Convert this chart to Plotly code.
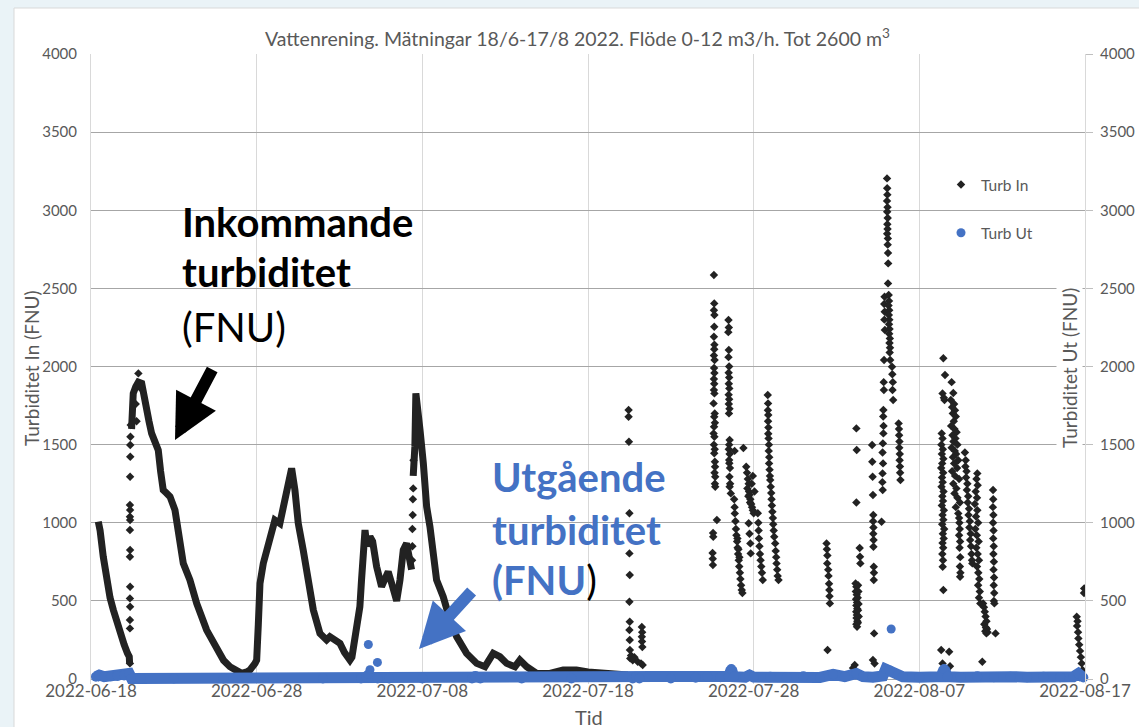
import pandas as pd
import plotly.graph_objects as go

START = pd.Timestamp("2022-06-18")
END = pd.Timestamp("2022-08-17")

# ---------------- data (days since 2022-06-18, FNU) ----------------
# Turb In – continuous part of the record
in_curve_day = [0.44, 0.55, 0.74, 0.95, 1.15, 1.35, 1.55, 1.75, 2.0, 2.2, 2.31, 2.33,
                None,
                2.45, 2.55, 2.7, 2.86, 3.06, 3.2, 3.36, 3.5, 3.66, 3.85, 4.06, 4.2, 4.36,
                4.55, 4.77, 5.07, 5.27, 5.57, 5.97, 6.38, 6.98, 7.59, 8.0, 8.39, 8.8,
                9.09, 9.4, 9.6, 9.9, 10.0, 10.1, 10.2, 10.4, 10.8, 11.1, 11.4, 11.7,
                12.0, 12.11, 12.31, 12.51, 12.81, 13.11, 13.42, 13.82, 14.22, 14.42,
                14.8, 15.03, 15.3, 15.63, 15.75, 16.0, 16.23, 16.33, 16.45, 16.54,
                16.65, 16.84, 17.0, 17.24, 17.54, 17.74, 17.94, 18.15, 18.35, 18.45,
                18.65, 18.85, 19.05, 19.25, 19.35,
                None,
                19.45, 19.55, 19.61, 19.68, 19.75, 19.86, 20.06, 20.26, 20.46, 20.66,
                20.86, 21.26, 21.67, 22.07, 22.67, 23.28, 23.78, 24.28, 24.68, 25.09,
                25.59, 25.89, 26.3, 26.9, 27.7, 28.5, 29.3, 30.0, 31.0, 32.0, 32.4]
in_curve_val = [1007, 950, 783, 612, 520, 442, 360, 292, 220, 165, 143, 100,
                None,
                1600, 1828, 1870, 1900, 1892, 1800, 1721, 1650, 1572, 1520, 1465, 1330, 1209,
                1190, 1167, 1081, 911, 740, 634, 484, 313, 185, 120, 79, 50,
                36, 45, 58, 100, 121, 350, 612, 740, 911, 1017, 996, 1167,
                1316, 1348, 1209, 996, 825, 612, 442, 292, 250, 271,
                240, 228, 170, 121, 140, 300, 463, 634, 800, 953,
                850, 911, 880, 719, 591, 634, 687, 612, 527, 500,
                634, 825, 868, 761, 700,
                None,
                1300, 1487, 1828, 1780, 1700, 1594, 1381, 1103, 975, 783,
                634, 527, 377, 271, 164, 100, 79, 164, 143, 100,
                79, 121, 79, 36, 36, 58, 58, 45, 40, 30, 25]

# Turb In – scattered readings (day, FNU)
jun20_points = [(2.35, 100), (2.35, 324), (2.35, 377), (2.36, 463), (2.35, 516), (2.36, 591),
                (2.35, 783), (2.36, 825), (2.35, 953), (2.36, 1017), (2.35, 1039), (2.36, 1081),
                (2.35, 1113), (2.36, 1295), (2.37, 1423), (2.37, 1497), (2.38, 1551),
                (2.40, 1625), (2.86, 1956), (3.0, 1860), (2.7, 1760), (2.75, 1650)]
jul07_points = [(19.38, 760), (19.40, 850), (19.40, 960), (19.42, 1050), (19.43, 1150),
                (19.45, 1220), (19.47, 1400)]
jul20_points = [(32.45, 1721), (32.45, 1679), (32.47, 1519), (32.50, 1061), (32.50, 804),
                (32.52, 666), (32.50, 495), (32.52, 367), (32.50, 313), (32.52, 250),
                (32.53, 185), (32.55, 132), (32.60, 150), (32.70, 120), (32.80, 140),
                (33.00, 110), (33.20, 100), (33.30, 90), (33.25, 333), (33.27, 300),
                (33.25, 270), (33.26, 240), (33.28, 205)]
jul26_points = [(37.60, 2586), (37.62, 2404), (37.60, 2360), (37.63, 2330), (37.62, 2255),
                (37.60, 2190), (37.63, 2140), (37.62, 2110), (37.60, 2070), (37.64, 2042),
                (37.61, 1990), (37.63, 1958), (37.60, 1920), (37.62, 1890), (37.60, 1850),
                (37.63, 1828), (37.58, 1764), (37.65, 1700), (37.62, 1679), (37.66, 1640),
                (37.61, 1615), (37.58, 1572), (37.63, 1550), (37.60, 1500), (37.65, 1470),
                (37.62, 1445), (37.66, 1390), (37.67, 1359), (37.64, 1320), (37.68, 1295),
                (37.66, 1250), (37.68, 1231), (37.78, 1017), (37.55, 934), (37.56, 910),
                (37.52, 806), (37.53, 770), (37.54, 730),
                (38.48, 2298), (38.50, 2250), (38.47, 2220), (38.50, 2106), (38.48, 2060),
                (38.52, 2000), (38.49, 1960), (38.52, 1930), (38.50, 1890), (38.53, 1860),
                (38.49, 1820), (38.52, 1790), (38.50, 1760), (38.54, 1730), (38.51, 1700),
                (38.55, 1530), (38.52, 1500), (38.50, 1470), (38.55, 1440), (38.52, 1402),
                (38.53, 1381), (38.57, 1350), (38.54, 1295), (38.58, 1250), (38.55, 1230),
                (38.62, 1188), (38.85, 1460), (38.82, 1150), (38.85, 1100), (38.86, 1060),
                (38.90, 1010), (38.93, 960), (38.96, 920), (39.00, 880), (39.03, 840),
                (39.06, 800), (39.10, 760), (39.13, 720), (39.17, 680), (39.20, 640),
                (39.24, 600), (39.28, 570), (39.32, 550), (39.02, 900), (39.08, 830),
                (39.14, 780),
                (39.38, 1478), (39.55, 1359), (39.60, 1320), (39.65, 1280), (39.70, 1250),
                (39.72, 1200), (39.75, 1180), (39.80, 1150), (39.85, 1120), (39.90, 1100),
                (39.95, 1080), (40.00, 1061), (39.62, 1220), (39.68, 1170), (39.78, 1130),
                (39.88, 1250), (39.95, 1300), (40.05, 1200), (39.70, 997), (39.75, 930),
                (39.80, 868), (39.82, 804), (40.25, 1061), (40.28, 1000), (40.30, 950),
                (40.32, 900), (40.35, 850), (40.38, 800), (40.42, 760), (40.46, 720),
                (40.50, 680), (40.55, 634),
                (40.85, 1817), (40.87, 1764), (40.86, 1720), (40.88, 1690), (40.87, 1650),
                (40.89, 1610), (40.88, 1570), (40.90, 1540), (40.92, 1500), (40.91, 1460),
                (40.94, 1420), (40.93, 1380), (40.96, 1340), (40.98, 1300), (41.00, 1273),
                (41.03, 1230), (41.06, 1190), (41.08, 1150), (41.10, 1110), (41.13, 1070),
                (41.16, 1030), (41.18, 990), (41.21, 950), (41.24, 910), (41.30, 868),
                (41.33, 820), (41.36, 780), (41.38, 740), (41.42, 700), (41.45, 660),
                (41.50, 634)]
aug02_points = [(44.40, 868), (44.42, 830), (44.45, 790), (44.44, 740), (44.50, 700),
                (44.52, 660), (44.55, 610), (44.57, 570), (44.58, 530), (44.60, 484),
                (44.46, 185)]
aug04_points = [(46.15, 612), (46.20, 590), (46.17, 560), (46.22, 540), (46.18, 510),
                (46.24, 490), (46.20, 470), (46.25, 450), (46.19, 430), (46.23, 410),
                (46.21, 390), (46.26, 370), (46.20, 350), (46.24, 335), (46.30, 600),
                (46.32, 560), (46.28, 520), (46.33, 480), (46.30, 440), (46.34, 400),
                (46.29, 360), (46.40, 838), (46.42, 783), (46.44, 740), (46.20, 1130),
                (46.22, 1465), (46.20, 1604), (46.10, 89), (46.00, 70),
                (47.15, 1497), (47.16, 1391), (47.18, 1295), (47.20, 1177), (47.22, 1049),
                (47.21, 1010), (47.23, 970), (47.22, 930), (47.24, 890), (47.23, 847),
                (47.25, 719), (47.26, 680), (47.25, 634), (47.27, 292), (47.20, 121),
                (47.30, 99),
                (47.72, 1007), (47.78, 1316), (47.77, 1260), (47.79, 1209), (47.80, 1508),
                (47.78, 1450), (47.81, 1380), (47.83, 1721), (47.82, 1680), (47.84, 1620),
                (47.83, 1572), (47.85, 1900), (47.86, 1850), (47.87, 2042), (47.90, 2447),
                (47.88, 2400), (47.91, 2350), (47.89, 2300), (47.92, 2234),
                (48.05, 3204), (48.06, 3141), (48.07, 3100), (48.05, 3060), (48.08, 3020),
                (48.06, 2990), (48.09, 2950), (48.07, 2910), (48.08, 2880), (48.06, 2850),
                (48.10, 2820), (48.09, 2780), (48.11, 2727), (48.12, 2660), (48.11, 2532),
                (48.15, 2458), (48.17, 2420), (48.14, 2390), (48.18, 2360), (48.16, 2330),
                (48.19, 2300), (48.17, 2270), (48.20, 2240), (48.18, 2210), (48.22, 2180),
                (48.20, 2150), (48.23, 2120), (48.21, 2090), (48.24, 2042),
                (48.35, 1998), (48.37, 1950), (48.40, 1900), (48.38, 1850), (48.42, 1785),
                (48.75, 1636), (48.77, 1600), (48.78, 1560), (48.80, 1520), (48.79, 1480),
                (48.82, 1440), (48.81, 1400), (48.83, 1360), (48.84, 1320), (48.86, 1273)]
aug08_points = [(51.45, 2053), (51.55, 1945), (51.40, 1828), (51.48, 1800), (51.52, 1785),
                (51.35, 1572), (51.40, 1540), (51.33, 1500), (51.42, 1470), (51.36, 1440),
                (51.45, 1410), (51.38, 1380), (51.32, 1350), (51.44, 1320), (51.37, 1290),
                (51.41, 1260), (51.34, 1230), (51.46, 1200), (51.39, 1170), (51.43, 1140),
                (51.36, 1110), (51.48, 1080), (51.40, 1050), (51.45, 1020), (51.38, 990),
                (51.50, 960), (51.42, 930), (51.47, 900), (51.40, 870), (51.44, 840),
                (51.39, 800), (51.43, 760), (51.41, 719), (51.45, 570), (51.32, 185),
                (51.40, 100), (51.80, 175), (51.85, 82),
                (51.95, 1900), (52.05, 1830), (51.90, 1785), (52.10, 1760), (51.98, 1740),
                (52.15, 1720), (52.02, 1700), (52.20, 1680), (52.08, 1650), (51.92, 1620),
                (52.12, 1600), (52.25, 1580), (52.00, 1560), (52.18, 1540), (52.06, 1520),
                (52.30, 1500), (51.95, 1480), (52.14, 1460), (52.22, 1440), (52.03, 1420),
                (52.35, 1400), (52.10, 1380), (52.28, 1350), (51.98, 1330), (52.16, 1300),
                (52.40, 1280), (52.05, 1250), (52.24, 1220), (52.12, 1188), (52.30, 1160),
                (52.45, 1130), (52.20, 1100), (52.35, 1060), (52.40, 1030), (52.42, 1000),
                (52.44, 960), (52.40, 920), (52.46, 880), (52.43, 840), (52.47, 780),
                (52.45, 720), (52.48, 680), (52.46, 655),
                (52.75, 1450), (52.80, 1400), (52.78, 1360), (52.85, 1330), (52.82, 1290),
                (52.90, 1250), (52.87, 1210), (52.95, 1170), (52.92, 1130), (53.00, 1090),
                (52.97, 1050), (53.05, 1010), (53.02, 970), (53.10, 930), (53.07, 890),
                (53.12, 850), (53.15, 800), (53.18, 760), (53.20, 740),
                (53.50, 1316), (53.45, 1280), (53.52, 1240), (53.40, 1200), (53.48, 1160),
                (53.35, 1120), (53.50, 1080), (53.42, 1040), (53.55, 1000), (53.38, 960),
                (53.47, 920), (53.58, 880), (53.44, 840), (53.52, 800), (53.60, 760),
                (53.48, 720), (53.56, 680), (53.62, 640), (53.55, 600), (53.65, 560),
                (53.60, 520), (53.68, 484),
                (53.85, 484), (53.90, 460), (53.95, 430), (54.00, 400), (54.05, 370),
                (53.92, 350), (54.02, 330), (54.08, 320), (53.98, 305), (54.12, 300),
                (54.05, 292), (53.80, 110),
                (54.45, 1209), (54.46, 1150), (54.44, 1100), (54.47, 1050), (54.45, 1000),
                (54.48, 950), (54.46, 900), (54.49, 850), (54.47, 800), (54.50, 750),
                (54.48, 700), (54.51, 650), (54.49, 600), (54.52, 550), (54.50, 500),
                (54.53, 484), (54.60, 292)]
aug17_points = [(59.50, 399), (59.55, 370), (59.52, 340), (59.58, 300), (59.60, 260),
                (59.65, 220), (59.70, 180), (59.75, 140), (59.80, 100), (59.85, 58),
                (59.95, 580), (59.94, 550)]

# Turb Ut – outlet turbidity
ut_band_day = [0.3, 0.5, 0.8, 1.2, 1.6, 2.0, 2.3, 2.45, 3, 5, 8, 11, 14, 16.3, 16.6,
               16.9, 17.3, 18, 20, 23.0, 23.2, 23.5, 26, 29, 32.7, 32.9, 33.1, 35, 36.5,
               37.2, 38.0, 38.5, 38.65, 38.8, 39.5, 39.75, 40, 41, 42, 43, 44, 44.8, 45.5,
               46.2, 46.6, 47.2, 47.8, 47.97, 48.2, 49, 50, 51.3, 51.5, 51.7, 52.5, 53.5,
               54.5, 55.5, 56.5, 57.5, 58.5, 59.3, 59.6, 59.9]
ut_band_val = [15, 25, 15, 18, 20, 22, 35, 3, 3, 3, 3, 3, 3, 3, 15,
               8, 3, 3, 3, 3, 20, 3, 3, 3, 3, 15, 3, 3, 8,
               15, 12, 18, 64, 15, 12, 25, 12, 15, 12, 18, 10, 30, 15,
               35, 15, 12, 20, 64, 55, 15, 12, 15, 64, 15, 12, 18,
               12, 15, 12, 15, 12, 15, 35, 10]
ut_outliers = [(16.70, 30), (16.74, 221), (16.84, 60), (17.29, 106), (48.30, 320)]

tick_vals = [0, 500, 1000, 1500, 2000, 2500, 3000, 3500, 4000]


def to_dates(days):
    return [None if d is None else START + pd.Timedelta(days=d) for d in days]


in_points = (jun20_points + jul07_points + jul20_points + jul26_points +
             aug02_points + aug04_points + aug08_points + aug17_points)

BLACK = "#222222"
BLUE = "#4472C4"
GREY = "#595959"
FONT = "Lato"

fig = go.Figure()
fig.add_trace(go.Scatter(
    x=to_dates(in_curve_day), y=in_curve_val, mode="lines",
    line=dict(color=BLACK, width=7), showlegend=False, hoverinfo="skip",
    legendgroup="in", connectgaps=False))
fig.add_trace(go.Scatter(
    x=to_dates([p[0] for p in in_points]), y=[p[1] for p in in_points],
    mode="markers", name="Turb In", legendgroup="in",
    marker=dict(symbol="diamond", size=6.5, color=BLACK)))
fig.add_trace(go.Scatter(
    x=to_dates(ut_band_day), y=ut_band_val, mode="lines+markers", yaxis="y2",
    line=dict(color=BLUE, width=11), marker=dict(size=10, color=BLUE),
    showlegend=False, legendgroup="ut", cliponaxis=False))
fig.add_trace(go.Scatter(
    x=to_dates([p[0] for p in ut_outliers]), y=[p[1] for p in ut_outliers],
    mode="markers", name="Turb Ut", yaxis="y2", legendgroup="ut",
    marker=dict(size=9, color=BLUE), cliponaxis=False))


# plot area: x 91..1085 px, y 54..684 px (0 FNU at 679 px)
def px(x):
    return (x - 91) / 994.0


def py(y):
    return (684 - y) / 630.0


BIG = 40
annotations = [
    dict(text="Vattenrening. Mätningar 18/6-17/8 2022. Flöde 0-12 m3/h. Tot 2600 m<sup>3</sup>",
         x=px(577), y=py(37), font=dict(size=19.5, color=GREY)),
    dict(text="Turbiditet In (FNU)", x=px(31), y=py(368), textangle=-90,
         font=dict(size=19, color=GREY)),
    dict(text="Turbiditet Ut (FNU)", x=px(1069), y=py(368), textangle=-90,
         font=dict(size=19, color=GREY), bgcolor="white"),
    dict(text="Tid", x=px(589), y=py(717), font=dict(size=20, color=GREY)),
    dict(text="<b>Inkommande</b>", x=px(180), y=py(222), xanchor="left",
         font=dict(size=BIG, color="black")),
    dict(text="<b>turbiditet</b>", x=px(180), y=py(272), xanchor="left",
         font=dict(size=BIG, color="black")),
    dict(text="(FNU)", x=px(180), y=py(327), xanchor="left",
         font=dict(size=BIG, color="black")),
    dict(text="<b>Utgående</b>", x=px(490), y=py(477), xanchor="left",
         font=dict(size=BIG, color=BLUE)),
    dict(text="<b>turbiditet</b>", x=px(490), y=py(530), xanchor="left",
         font=dict(size=BIG, color=BLUE)),
    dict(text="<b>(FNU</b><span style='color:black'>)</span>", x=px(490), y=py(580),
         xanchor="left", font=dict(size=BIG, color=BLUE)),
    dict(text="", x=px(175), y=py(440), showarrow=True, ax=38, ay=-72,
         arrowcolor="black", arrowwidth=12, arrowhead=2, arrowsize=0.75, standoff=0),
    dict(text="", x=px(419), y=py(649), showarrow=True, ax=54, ay=-59,
         arrowcolor=BLUE, arrowwidth=12, arrowhead=2, arrowsize=0.75, standoff=0),
]
for a in annotations:
    a.setdefault("xref", "paper")
    a.setdefault("yref", "paper")
    a.setdefault("showarrow", False)
    a.setdefault("xanchor", "center")
    a.setdefault("yanchor", "middle")
    a["font"] = dict(family=FONT, **a.get("font", {}))

fig.update_layout(
    width=1139, height=727,
    margin=dict(l=91, r=54, t=54, b=43),
    paper_bgcolor="#EAF3F7",
    plot_bgcolor="white",
    font=dict(family=FONT, color=GREY),
    annotations=annotations,
    shapes=[dict(type="rect", xref="paper", yref="paper", x0=px(14), x1=px(1145),
                 y0=py(740), y1=py(8), fillcolor="white",
                 line=dict(color="#d9d9d9", width=1), layer="below")],
    legend=dict(x=px(941), y=py(168), xanchor="left", yanchor="top",
                bgcolor="rgba(0,0,0,0)", font=dict(size=15.5, color=GREY, family=FONT),
                tracegroupgap=25),
    xaxis=dict(type="date", range=[START, END], tick0=START, dtick=10 * 86400000,
               tickformat="%Y-%m-%d", showgrid=True, gridcolor="#d9d9d9", gridwidth=1,
               ticks="", zeroline=False, tickfont=dict(size=17, color=GREY),
               ticklabelstandoff=-5, automargin=False),
    yaxis=dict(range=[-32, 4000], tickvals=tick_vals, showgrid=True,
               gridcolor="#a6a6a6", gridwidth=1, zeroline=False, showline=True,
               linecolor="#d9d9d9", ticks="", tickfont=dict(size=15, color=GREY),
               ticklabelstandoff=10, automargin=False),
    yaxis2=dict(range=[-32, 4000], tickvals=tick_vals, overlaying="y", side="right",
                showgrid=False, zeroline=False, showline=True, linecolor="#d9d9d9",
                ticks="outside", ticklen=7, tickcolor="#bfbfbf",
                tickfont=dict(size=15, color=GREY), ticklabelstandoff=4,
                automargin=False),
)

fig.write_html("out.html", config={"displayModeBar": False},
               post_script="document.body.style.margin='0';"
                           "document.body.style.background='#EAF3F7';")
